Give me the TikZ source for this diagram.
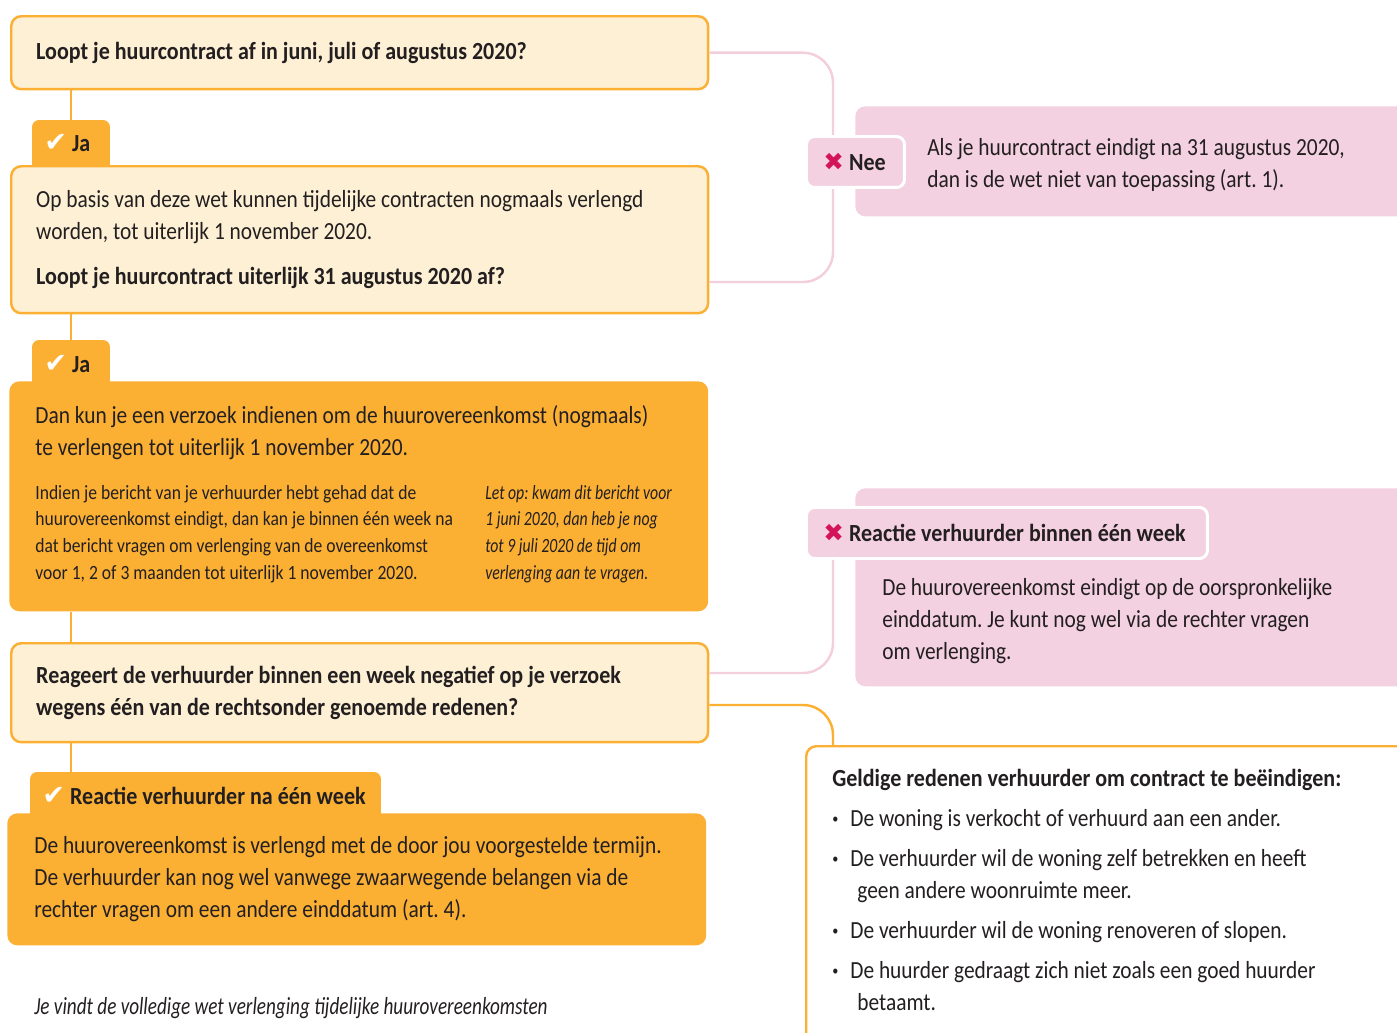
\documentclass[tikz,border=0pt]{standalone}
\usepackage{fontspec}
\setmainfont{Carlito}[FakeStretch=0.87, BoldFeatures={FakeStretch=0.895}, ItalicFeatures={FakeStretch=0.78}]
\newfontfamily\symbolen{DejaVu Sans}
\usetikzlibrary{positioning}
\frenchspacing

\definecolor{oranje}{HTML}{FBB034}
\definecolor{lichtgeel}{HTML}{FDF0D4}
\definecolor{roze}{HTML}{F4D1E0}
\definecolor{rozelijn}{HTML}{F3CEDC}
\definecolor{kruisrood}{HTML}{D3145A}
\definecolor{tekstkleur}{HTML}{231F20}

\newcommand{\grootfont}{\fontsize{14}{18.2}\selectfont}
\newcommand{\kleinfont}{\fontsize{11.5}{15.2}\selectfont}
\newcommand{\vinkje}{{\symbolen\fontsize{15.5}{15.5}\selectfont\color{white}✔}}
\newcommand{\kruis}{{\symbolen\fontsize{14}{14}\selectfont\color{kruisrood}✖}}
\newcommand{\bolletje}{\makebox[0.36cm][l]{\raisebox{0.12em}{\fontsize{8}{8}\selectfont\textbullet}}}

\tikzset{
  vraag/.style={draw=oranje, fill=lichtgeel, line width=1.4pt, rounded corners=0.2cm, anchor=north west, minimum width=13.94cm, text width=12.94cm, inner xsep=0.5cm, align=flush left, font=\grootfont, text=tekstkleur},
  antwoord/.style={fill=oranje, rounded corners=0.2cm, anchor=north west, minimum width=13.98cm, text width=12.94cm, inner xsep=0.52cm, align=flush left, font=\grootfont, text=tekstkleur},
  tabblad/.style={fill=oranje, rounded corners=0.14cm, minimum height=1.1cm},
  tablabel/.style={anchor=west, inner sep=0pt, font=\grootfont\bfseries, text=tekstkleur},
  rozevlak/.style={fill=roze, rounded corners=0.2cm, anchor=north west, minimum width=12.28cm},
  rozetab/.style={fill=roze, draw=white, line width=1.7pt, rounded corners=0.16cm, anchor=north west, minimum height=1.02cm, inner ysep=0pt, inner xsep=0.34cm, font=\grootfont\bfseries, text=tekstkleur},
  rozetekst/.style={inner sep=0pt, align=flush left, font=\grootfont, text=tekstkleur},
  neelijn/.style={draw=rozelijn, line width=1.4pt, rounded corners=0.6cm},
  jalijn/.style={draw=oranje, line width=1.4pt}
}

\begin{document}
\begin{tikzpicture}[x=0.02cm, y=-0.02cm]
\useasboundingbox (0,0) rectangle (1397,1032);
\clip (0,0) rectangle (1397,1032);

\node (ja1) [tabblad, minimum width=1.56cm] at (71,147.5) {};
\node (ja2) [tabblad, minimum width=1.56cm] at (71,367.5) {};
\node (ja3) [tabblad, minimum width=7.02cm, minimum height=1.06cm] at (205.5,798.5) {};

\node (q1) [vraag, minimum height=1.46cm, font=\grootfont\bfseries] at (10,15) {Loopt je huurcontract af in juni, juli of augustus 2020?};
\node (q2) [vraag, minimum height=2.94cm] at (10,165) {Op basis van deze wet kunnen tijdelijke contracten nogmaals verlengd\\
worden, tot uiterlijk 1 november 2020.\\[7.4pt]
\textbf{Loopt je huurcontract uiterlijk 31 augustus 2020 af?}};
\node (q3) [antwoord, minimum height=4.6cm] at (9,381) {Dan kun je een verzoek indienen om de huurovereenkomst (nogmaals)\\
te verlengen tot uiterlijk 1 november 2020.\\[6.8pt]
{\kleinfont\makebox[9cm][l]{\begin{tabular}[t]{@{}l@{}}
Indien je bericht van je verhuurder hebt gehad dat de\\
huurovereenkomst eindigt, dan kan je binnen één week na\\
dat bericht vragen om verlenging van de overeenkomst\\
voor 1, 2 of 3 maanden tot uiterlijk 1 november 2020.
\end{tabular}}\begin{tabular}[t]{@{}l@{}}\itshape Let op: kwam dit bericht voor\\
\itshape 1 juni 2020, dan heb je nog\\
\itshape tot 9 juli 2020 de tijd om\\
\itshape verlenging aan te vragen.
\end{tabular}}};
\node (q4) [vraag, minimum height=1.98cm, font=\grootfont\bfseries] at (10,642) {Reageert de verhuurder binnen een week negatief op je verzoek\\
wegens één van de rechtsonder genoemde redenen?};
\node (q5) [antwoord, minimum height=2.64cm, inner xsep=0.54cm, text width=12.9cm] at (7,813) {De huurovereenkomst is verlengd met de door jou voorgestelde termijn.\\
De verhuurder kan nog wel vanwege zwaarwegende belangen via de\\
rechter vragen om een andere einddatum (art. 4).};

\node (ja1tekst) [tablabel] at (44,143) {\vinkje\ Ja};
\node (ja2tekst) [tablabel] at (44,364) {\vinkje\ Ja};
\node (ja3tekst) [tablabel] at (42,796) {\vinkje\ Reactie verhuurder na één week};

\draw[jalijn] (q1.south -| ja1) -- (ja1.north);
\draw[jalijn] (q2.south -| ja2) -- (ja2.north);
\draw[jalijn] (q3.south -| ja2) -- (q4.north -| ja2);
\draw[jalijn] (q4.south -| ja2) -- (ja3.north -| ja2);

\coordinate (h1) at (833,282);
\coordinate (h2) at (833,673);
\coordinate (h3) at (833,705);
\draw[neelijn] (q1.east) -| (h1) -- (q2.east |- h1);

\node (redenen) [draw=oranje, fill=white, line width=1.4pt, rounded corners=0.2cm, anchor=north west, minimum width=12.8cm, minimum height=6.7cm] at (805,745) {};
\draw[jalijn, rounded corners=0.6cm] (q4.east |- h3) -- (h3) -- (redenen.north west -| h3);
\node (lijst) [below right=0.48cm and 0.54cm of redenen.north west, rozetekst] {\textbf{Geldige redenen verhuurder om contract te beëindigen:}\\[4.6pt]
\bolletje De woning is verkocht of verhuurd aan een ander.\\[4.6pt]
\bolletje De verhuurder wil de woning zelf betrekken en heeft\\
\hspace*{0.5cm}geen andere woonruimte meer.\\[4.6pt]
\bolletje De verhuurder wil de woning renoveren of slopen.\\[4.6pt]
\bolletje De huurder gedraagt zich niet zoals een goed huurder\\
\hspace*{0.5cm}betaamt.};

\node (neevlak) [rozevlak, minimum height=2.2cm, text width=9.4cm, inner xsep=1.44cm, align=flush left, font=\grootfont, text=tekstkleur] at (855,106) {\rule{0pt}{14pt}Als je huurcontract eindigt na 31 augustus 2020,\\
dan is de wet niet van toepassing (art. 1).};
\node (nee) [rozetab] at (805,135) {\makebox[1.28cm][l]{\kruis\ Nee}};

\node (binnenvlak) [rozevlak, minimum height=3.96cm] at (855,488) {};
\node (binnentab) [rozetab] at (805,506) {\makebox[7.34cm][l]{\kruis\ Reactie verhuurder binnen één week}};
\draw[neelijn] (binnentab.south -| h2) -- (h2) -- (q4.east |- h2);
\node (binnentekst) [below right=0.36cm and 1.54cm of binnentab.south west, rozetekst] {De huurovereenkomst eindigt op de oorspronkelijke\\
einddatum. Je kunt nog wel via de rechter vragen\\
om verlenging.};

\node (bron) [below right=1.02cm and 0.54cm of q5.south west, rozetekst, font=\grootfont\itshape] {Je vindt de volledige wet verlenging tijdelijke huurovereenkomsten};
\end{tikzpicture}
\end{document}
